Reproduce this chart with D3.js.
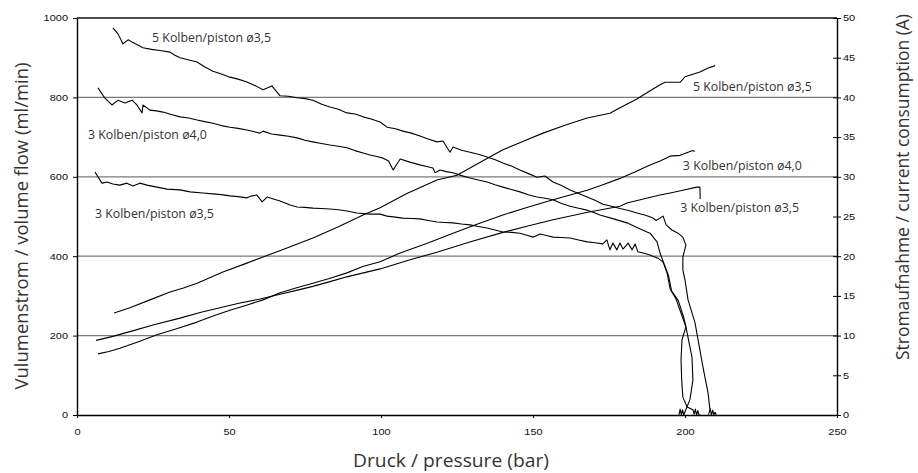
<!DOCTYPE html>
<html><head><meta charset="utf-8">
<script src="https://cdn.jsdelivr.net/npm/d3@7"></script>
<style>
html,body{margin:0;padding:0;background:#fff;}
svg{display:block;}
</style></head>
<body>
<svg id="chart" width="918" height="473"></svg>
<script>
// ---- data (pressure bar, value) ----
const pressureTicks = [0, 50, 100, 150, 200, 250];
const flowTicks = [0, 200, 400, 600, 800, 1000];
const currentTicks = [0, 5, 10, 15, 20, 25, 30, 35, 40, 45, 50];
const gridFlow = [200, 400, 600, 800];

const seriesNames = ["5 Kolben/piston ø3,5", "3 Kolben/piston ø4,0", "3 Kolben/piston ø3,5"];

const flow5K35 = [[11.8,975],[13.5,960],[15.1,935],[16.8,945],[18.4,938],[21.7,925],[24.5,921],[27.3,918],[30.6,914],[32.2,906],[33.9,900],[39.5,889],[41.8,878],[44.7,866],[47.5,859],[50.3,851],[53.0,846],[55.9,839],[58.8,829],[61.2,819],[64.1,829],[66.8,804],[69.5,803],[72.4,799],[75.1,797],[77.6,793],[80.5,783],[83.2,776],[86.0,770],[88.8,761],[91.5,758],[94.1,751],[97.0,745],[99.7,738],[102.0,725],[104.8,721],[107.2,715],[110.0,710],[112.8,703],[115.5,695],[118.4,688],[120.4,690],[122.7,662],[123.7,675],[126.5,667],[129.3,662],[132.0,657],[134.9,650],[137.6,643],[140.1,635],[142.9,627],[145.7,617],[148.5,608],[151.3,599],[153.9,602],[156.6,587],[159.4,578],[162.2,567],[165.0,558],[167.8,549],[170.4,541],[173.0,531],[175.8,526],[178.6,520],[181.4,515],[184.2,509],[187.0,503],[189.5,496],[190.5,490],[192.8,501],[193.8,479],[195.7,466],[197.7,458],[199.3,448],[200.3,428],[199.3,398],[199.3,365],[200.0,340],[201.0,290],[203.3,232],[204.3,189],[205.9,121],[207.6,55],[208.2,13],[207.8,2],[208.3,16],[208.7,0],[209.1,12],[209.5,1],[209.9,7],[210.3,0]];

const flow3K40 = [[6.9,824],[9.2,798],[11.5,781],[13.5,793],[15.8,786],[18.1,793],[19.7,781],[21.4,761],[21.7,781],[24.0,768],[26.1,766],[28.3,763],[31.0,757],[33.9,751],[36.8,748],[39.5,743],[42.0,739],[44.7,735],[47.5,729],[50.3,725],[53.0,722],[55.9,718],[58.0,714],[60.2,710],[61.2,715],[64.0,708],[66.8,705],[69.6,702],[72.4,698],[75.0,692],[77.6,688],[80.4,684],[83.2,680],[86.0,677],[88.8,673],[91.4,666],[94.1,660],[96.4,655],[98.6,651],[100.7,647],[102.5,640],[104.0,617],[106.3,645],[109.5,637],[112.8,630],[115.0,626],[117.1,622],[117.8,610],[119.4,617],[121.5,613],[123.7,610],[126.5,603],[129.3,597],[132.0,592],[134.9,587],[137.5,580],[140.1,574],[142.9,568],[145.7,562],[148.5,555],[151.3,549],[154.0,546],[156.6,542],[159.4,533],[162.2,526],[165.0,521],[167.8,516],[170.0,510],[172.0,504],[176.5,494],[180.9,484],[184.2,472],[187.5,461],[188.5,458],[190.8,436],[191.8,408],[193.4,375],[194.6,350],[195.6,312],[197.8,288],[199.6,245],[200.3,222],[199.0,189],[198.7,139],[198.9,90],[199.3,45],[200.7,20],[202.6,13],[203.0,2],[203.4,15],[203.8,0],[204.2,11],[204.6,1],[205.0,0]];

const flow3K35 = [[5.9,612],[8.2,584],[9.9,587],[11.8,582],[14.1,579],[16.4,584],[18.4,577],[20.7,584],[23.0,579],[26.3,574],[29.6,569],[33.9,567],[37.2,562],[41.4,559],[44.7,557],[47.5,555],[50.3,552],[53.0,550],[55.9,547],[57.6,552],[59.2,554],[60.9,537],[62.5,549],[64.6,544],[66.8,539],[70.1,529],[72.4,524],[75.0,523],[77.6,521],[80.4,520],[83.2,519],[86.0,517],[88.8,514],[92.1,509],[96.4,506],[99.7,506],[102.0,501],[104.0,499],[107.2,496],[110.0,495],[112.8,494],[115.6,490],[118.4,486],[121.0,485],[123.7,484],[126.5,481],[129.3,479],[132.0,475],[134.9,471],[137.5,466],[140.1,461],[143.0,460],[145.7,458],[148.0,453],[150.0,448],[152.3,456],[154.4,452],[156.6,448],[159.4,447],[162.2,446],[165.0,441],[167.8,436],[170.4,434],[173.0,431],[174.3,441],[175.3,416],[176.3,433],[177.6,416],[178.6,433],[179.6,418],[181.3,433],[182.6,416],[183.6,431],[184.5,411],[186.2,408],[188.5,403],[191.1,395],[192.8,385],[194.1,358],[195.1,318],[197.0,293],[199.0,250],[200.3,222],[202.3,146],[202.6,88],[201.6,38],[200.0,8],[199.6,0],[199.2,13],[198.8,1],[198.4,15],[198.0,0]];

const current5K35 = [[12.2,12.85],[17.4,13.5],[24.0,14.5],[30.6,15.5],[35.0,16.0],[39.5,16.6],[48.0,18.0],[55.0,19.0],[61.2,19.9],[69.5,21.1],[77.6,22.3],[86.0,23.7],[94.1,25.2],[99.7,26.1],[108.5,27.9],[118.4,29.6],[125.0,30.2],[132.5,31.8],[140.1,33.4],[147.0,34.5],[153.3,35.5],[160.5,36.5],[167.8,37.4],[175.3,38.0],[178.6,38.7],[184.2,39.8],[188.0,40.7],[191.8,41.6],[193.4,41.9],[198.4,41.9],[200.0,42.6],[204.9,43.2],[207.6,43.7],[209.9,44.0]];

const current3K40 = [[6.9,7.7],[10.5,8.0],[14.1,8.4],[20.0,9.2],[26.3,10.1],[33.0,10.9],[39.5,11.7],[45.0,12.5],[50.3,13.2],[55.5,13.8],[61.2,14.5],[66.8,15.4],[72.0,16.0],[77.6,16.6],[83.0,17.2],[88.8,17.9],[94.0,18.7],[99.7,19.3],[106.3,20.4],[115.0,21.6],[123.7,22.9],[132.0,24.1],[140.1,25.2],[148.5,26.2],[156.6,27.1],[162.2,27.7],[167.8,28.3],[173.0,29.0],[178.6,29.8],[183.5,30.6],[188.5,31.5],[191.8,32.0],[195.1,32.6],[198.4,32.7],[201.0,33.1],[202.6,33.3],[203.2,33.2]];

const current3K35 = [[6.3,9.4],[11.8,9.9],[17.4,10.5],[25.6,11.4],[33.9,12.2],[40.5,12.9],[47.0,13.5],[53.6,14.1],[60.2,14.6],[66.8,15.2],[72.2,15.7],[77.6,16.2],[83.2,16.8],[88.8,17.4],[94.2,17.9],[99.7,18.4],[109.0,19.5],[118.4,20.5],[129.2,21.8],[140.1,23.0],[148.3,23.8],[156.6,24.6],[167.6,25.5],[178.6,26.3],[180.9,26.7],[186.3,27.2],[191.8,27.7],[195.5,28.0],[199.3,28.3],[203.9,28.7],[204.9,28.7],[205.0,27.2]];

// ---- layout ----
const L = 77, R = 837, T = 18, B = 415;
const svg = d3.select("#chart");

const x = d3.scaleLinear().domain([0, 250]).range([L, R]);
const yL = d3.scaleLinear().domain([0, 1000]).range([B, T]);
const yR = d3.scaleLinear().domain([0, 50]).range([B, T]);

const tickFont = "'Liberation Sans', Arial, sans-serif";
const titleFont = "'Open Sans', 'Noto Sans', sans-serif";
const fmt = d => String(d);

// gridlines
svg.append("g").selectAll("line").data(gridFlow).join("line")
  .attr("x1", L).attr("x2", R)
  .attr("y1", d => yL(d)).attr("y2", d => yL(d))
  .attr("stroke", "#7a7a7a").attr("stroke-width", 1.3);

// top frame line
svg.append("line").attr("x1", L).attr("x2", R).attr("y1", yL(1000)).attr("y2", yL(1000))
  .attr("stroke", "#111").attr("stroke-width", 1.4);

function styleTicks(g) {
  g.select(".domain").attr("stroke", "#000").attr("stroke-width", 1.4);
  g.selectAll(".tick text")
    .attr("font-family", tickFont).attr("font-size", 9).attr("fill", "#111")
    .attr("textLength", d => String(d).length * 6.1)
    .attr("lengthAdjust", "spacingAndGlyphs");
  g.selectAll(".tick line").attr("stroke", "#000").attr("stroke-width", 1);
}

// left axis
const gL = svg.append("g").attr("transform", `translate(${L},0)`)
  .call(d3.axisLeft(yL).tickValues(flowTicks).tickFormat(fmt).tickSizeInner(4).tickSizeOuter(0).tickPadding(5));
styleTicks(gL);
gL.selectAll(".tick line").attr("x1", 0);

// right axis
const gR = svg.append("g").attr("transform", `translate(${R},0)`)
  .call(d3.axisRight(yR).tickValues(currentTicks).tickFormat(fmt).tickSizeInner(4).tickSizeOuter(0).tickPadding(2));
styleTicks(gR);
gR.selectAll(".tick line").attr("x1", -4);

// bottom axis
const gB = svg.append("g").attr("transform", `translate(0,${B})`)
  .call(d3.axisBottom(x).tickValues(pressureTicks).tickFormat(fmt).tickSizeInner(3).tickSizeOuter(0).tickPadding(11));
styleTicks(gB);

// lines
const lineL = d3.line().x(d => x(d[0])).y(d => yL(d[1]));
const lineR = d3.line().x(d => x(d[0])).y(d => yR(d[1]));
const gLines = svg.append("g").attr("fill", "none").attr("stroke", "#000")
  .attr("stroke-width", 1.1).attr("stroke-linejoin", "round");
[flow5K35, flow3K40, flow3K35].forEach(s => gLines.append("path").attr("d", lineL(s)));
[current5K35, current3K40, current3K35].forEach(s => gLines.append("path").attr("d", lineR(s)));

// annotations (positions in data units)
const ann = [
  {t: seriesNames[0], px: 24.7, v: yL(939)},
  {t: seriesNames[1], px: 3.6, v: yL(694)},
  {t: seriesNames[2], px: 5.9, v: yL(496)},
  {t: seriesNames[0], px: 202.6, v: yR(40.8)},
  {t: seriesNames[1], px: 199.3, v: yR(30.8)},
  {t: seriesNames[2], px: 198.4, v: yR(25.6)}
];
svg.append("g").selectAll("text").data(ann).join("text")
  .attr("x", d => x(d.px)).attr("y", d => d.v)
  .attr("font-family", titleFont).attr("font-size", 12.5).attr("fill", "#333")
  .attr("textLength", 119).attr("lengthAdjust", "spacingAndGlyphs")
  .text(d => d.t);

// axis titles
svg.append("text").attr("transform", "translate(28,226) rotate(-90)")
  .attr("text-anchor", "middle").attr("font-family", titleFont).attr("font-size", 19)
  .attr("fill", "#333").attr("textLength", 327).attr("lengthAdjust", "spacingAndGlyphs")
  .text("Vulumenstrom / volume flow (ml/min)");
svg.append("text").attr("transform", "translate(909,187) rotate(-90)")
  .attr("text-anchor", "middle").attr("font-family", titleFont).attr("font-size", 18)
  .attr("fill", "#333").attr("textLength", 346).attr("lengthAdjust", "spacingAndGlyphs")
  .text("Stromaufnahme / current consumption (A)");
svg.append("text").attr("x", 451).attr("y", 467)
  .attr("text-anchor", "middle").attr("font-family", titleFont).attr("font-size", 19)
  .attr("fill", "#333").attr("textLength", 196).attr("lengthAdjust", "spacingAndGlyphs")
  .text("Druck / pressure (bar)");
</script>
</body></html>
